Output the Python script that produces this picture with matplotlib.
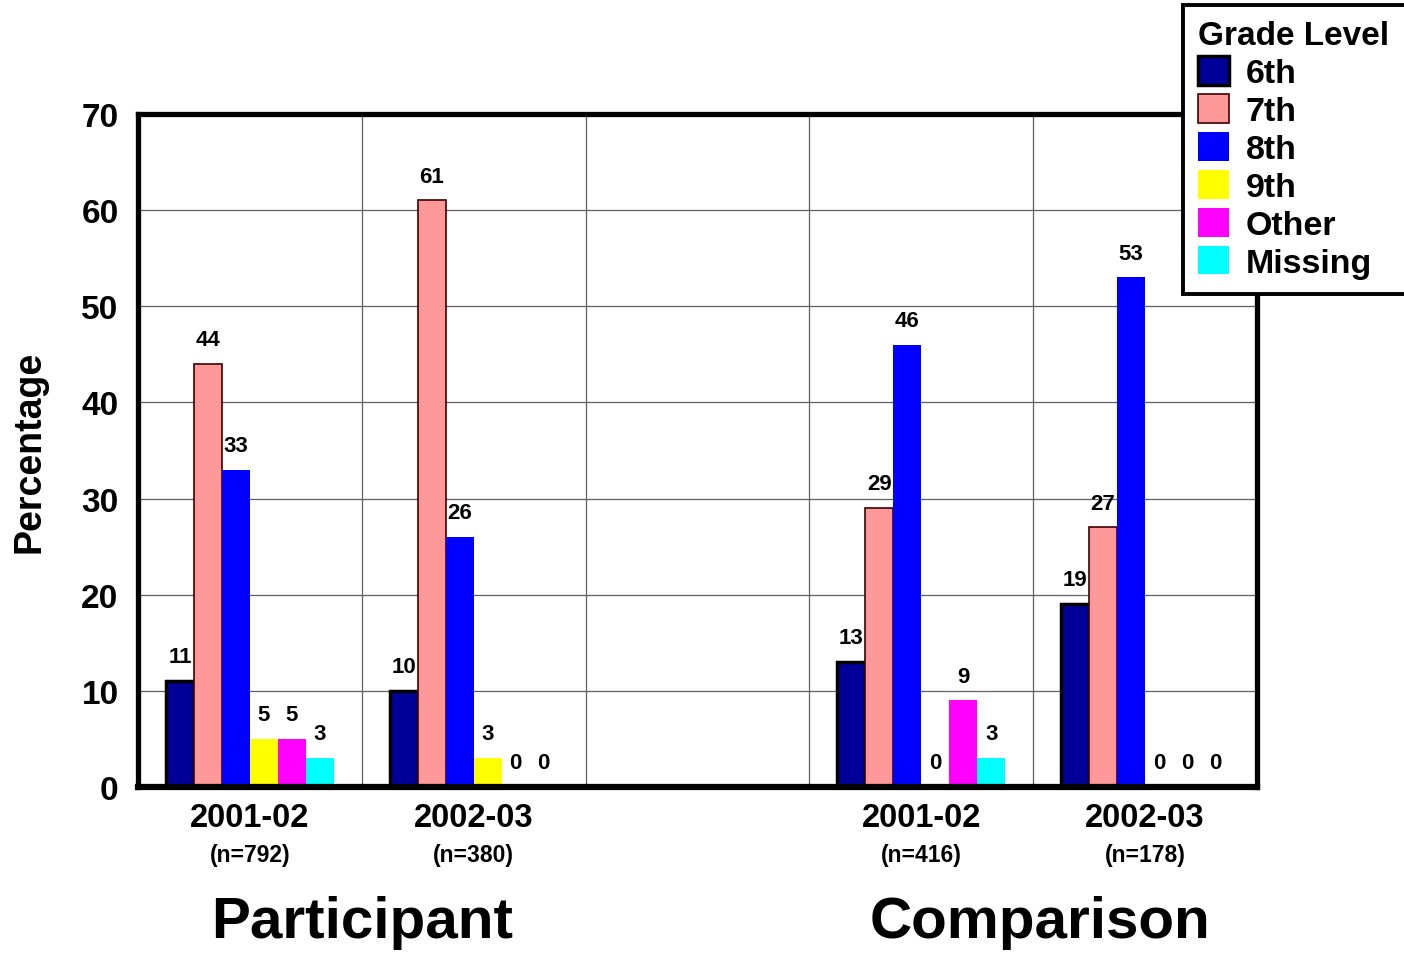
import matplotlib
matplotlib.use("Agg")
import matplotlib.pyplot as plt
from matplotlib.transforms import blended_transform_factory
import numpy as np

plt.rcParams['font.family'] = ['Liberation Sans', 'DejaVu Sans']
plt.rcParams['font.weight'] = 'bold'

grades = ['6th', '7th', '8th', '9th', 'Other', 'Missing']
colors = ['#000099', '#FF9999', '#0000FF', '#FFFF00', '#FF00FF', '#00FFFF']
years = ['2001-02', '2002-03', '', '2001-02', '2002-03']
sizes = ['(n=792)', '(n=380)', '', '(n=416)', '(n=178)']
groups = ['Participant', 'Comparison']

# percentage per grade, one list per grade across the five slots (slot 2 is a spacer)
pct_6th = [11, 10, None, 13, 19]
pct_7th = [44, 61, None, 29, 27]
pct_8th = [33, 26, None, 46, 53]
pct_9th = [5, 3, None, 0, 0]
pct_other = [5, 0, None, 9, 0]
pct_missing = [3, 0, None, 3, 0]
series = [pct_6th, pct_7th, pct_8th, pct_9th, pct_other, pct_missing]

fig = plt.figure(figsize=(14.04, 9.54), dpi=100)
ax = fig.add_axes([0.0983, 0.174, 0.797, 0.7055])

width = 0.125
slots = np.arange(len(years))
for i, (vals, col, name) in enumerate(zip(series, colors, grades)):
    xs = [s + (i - 2.5) * width for s, v in zip(slots, vals) if v is not None]
    ys = [v for v in vals if v is not None]
    if i == 0:
        ec, lw = 'black', 2.5
    elif i == 1:
        ec, lw = '#400000', 1.2
    else:
        ec, lw = col, 0
    ax.bar(xs, ys, width, color=col, edgecolor=ec, linewidth=lw, label=name, zorder=3)
    for x, y in zip(xs, ys):
        ax.annotate(str(y), (x, y), xytext=(0, 10), textcoords='offset points',
                    ha='center', va='bottom', fontsize=16, fontweight='bold')

ax.set_xlim(-0.5, 4.5)
ax.set_ylim(0, 70)
ax.set_yticks(np.arange(0, 71, 10))
ax.set_xticks([])
ax.tick_params(axis='y', length=0, pad=14, labelsize=24)
for lab in ax.get_yticklabels():
    lab.set_fontweight('bold')
ax.set_ylabel('Percentage', fontsize=27, fontweight='bold', labelpad=24)

for y in range(10, 70, 10):
    ax.axhline(y, color='#606060', linewidth=0.9, zorder=1)
for x in [0.5, 1.5, 2.5, 3.5]:
    ax.axvline(x, color='#606060', linewidth=0.9, zorder=1)
for sp in ax.spines.values():
    sp.set_linewidth(3.8)
    sp.set_zorder(5)
ax.spines['bottom'].set_linewidth(4.5)

trans = blended_transform_factory(ax.transData, ax.transAxes)
for s, (yr, n) in enumerate(zip(years, sizes)):
    if not yr:
        continue
    ax.text(s, -0.046, yr, transform=trans, ha='center', va='center',
            fontsize=23.5, fontweight='bold')
    ax.text(s, -0.101, n, transform=trans, ha='center', va='center',
            fontsize=16.5, fontweight='bold')
ax.text(0.5, -0.2, groups[0], transform=trans, ha='center', va='center',
        fontsize=42, fontweight='bold')
ax.text(3.53, -0.2, groups[1], transform=trans, ha='center', va='center',
        fontsize=42, fontweight='bold')

# legend box runs off the right edge of the figure
x0 = 1183 / 1404
top = 1 - 6 / 954
leg = fig.legend(loc='upper left', bbox_to_anchor=(x0, 0.5, 1.003 - x0, top - 0.5),
                 mode='expand', title='Grade Level', fontsize=24.5, title_fontsize=24,
                 frameon=True, fancybox=False, framealpha=1,
                 handlelength=0.9, handleheight=0.9, handletextpad=0.5,
                 labelspacing=0.15, borderpad=0.45, borderaxespad=0,
                 alignment='left')
leg.get_frame().set_edgecolor('black')
leg.get_frame().set_linewidth(2.8)
for t in leg.get_texts():
    t.set_fontweight('bold')
leg.get_title().set_fontweight('bold')

fig.savefig('out.png', dpi=100)
